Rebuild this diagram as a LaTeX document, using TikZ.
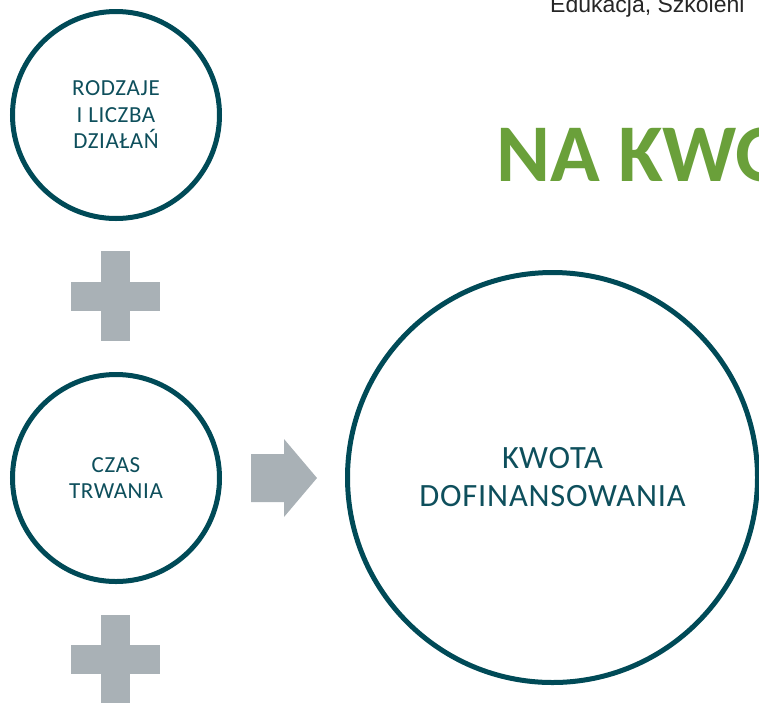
\documentclass[tikz,border=0pt]{standalone}
\usepackage{fontspec}
\setmainfont{Carlito}
\newfontfamily\circfont[LetterSpace=2.5]{Carlito}
\newfontfamily\titlefont{Carlito}
\newfontfamily\headfont{Liberation Sans}
\definecolor{teal}{HTML}{004A57}
\definecolor{tealtext}{HTML}{0E4F5C}
\definecolor{plusgray}{HTML}{A9B1B6}
\definecolor{titlegreen}{HTML}{6AA03A}
\definecolor{headgray}{HTML}{262626}
\begin{document}
\begin{tikzpicture}[x=1pt,y=-1pt,
  ring/.style={circle,draw=teal,line width=5pt,fill=white,inner sep=0pt},
  smalltxt/.style={text=tealtext,align=center,font=\circfont\fontsize{23}{26.5}\selectfont},
  bigtxt/.style={text=tealtext,align=center,font=\circfont\fontsize{32.5}{38}\selectfont},
  shapefill/.style={fill=plusgray,draw=none}]
\useasboundingbox (0,0) rectangle (759,702);
\clip (0,0) rectangle (759,702);
\node[anchor=base west,text=headgray,font=\headfont\fontsize{23}{27}\selectfont,inner sep=0pt] (head) at (550,12.5) {Edukacja, Szkoleni};
\node[anchor=base west,text=titlegreen,font=\titlefont\bfseries\fontsize{82}{90}\selectfont,inner sep=0pt] (title) at (496,181) {NA KWO};
\node[ring,minimum size=207pt] (c1) at (116,115) {};
\node[smalltxt] (t1) at (c1.center) {RODZAJE\\I LICZBA\\DZIAŁAŃ};
\node[ring,minimum size=207pt] (c2) at (116,478) {};
\node[smalltxt] (t2) at (c2.center) {CZAS\\TRWANIA};
\node[ring,minimum size=410pt] (c3) at (552.5,477.5) {};
\node[bigtxt] (t3) at (c3.center) {KWOTA\\DOFINANSOWANIA};
% plus signs
\fill[shapefill] (101,251) rectangle (129.5,340.5);
\fill[shapefill] (71,282) rectangle (159.5,310.5);
\fill[shapefill] (101,615) rectangle (129.5,703.5);
\fill[shapefill] (71,645) rectangle (159.5,673.5);
% arrow
\fill[shapefill] (251,454) -- (284,454) -- (284,439) -- (317,478) -- (284,517) -- (284,502) -- (251,502) -- cycle;
\end{tikzpicture}
\end{document}
